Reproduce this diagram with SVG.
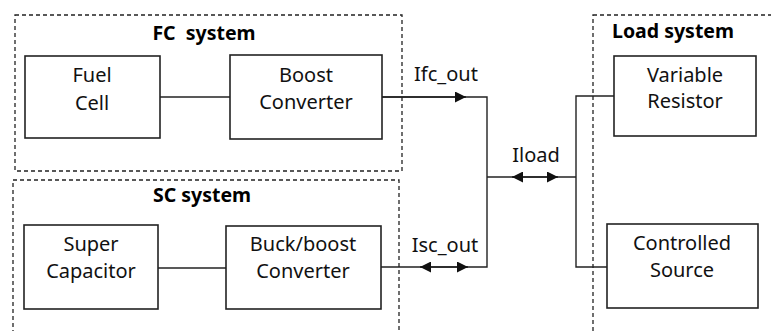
<svg xmlns="http://www.w3.org/2000/svg" width="771" height="331" viewBox="0 0 771 331">
  <defs>
    <style>
      .group { fill: none; stroke: #222; stroke-width: 1.3; stroke-dasharray: 4 3; }
      .box { fill: #fff; stroke: #222; stroke-width: 1.6; }
      .wire { fill: none; stroke: #222; stroke-width: 1.4; }
      .label { font-family: "Noto Sans", "Open Sans", sans-serif; font-size: 20px; fill: #111; text-anchor: middle; }
      .title { font-family: "Noto Sans", "Open Sans", sans-serif; font-size: 19.5px; font-weight: bold; fill: #000; text-anchor: middle; }
    </style>
    <marker id="tri" viewBox="0 0 10 10" refX="10" refY="5" markerWidth="11" markerHeight="11" markerUnits="userSpaceOnUse" orient="auto-start-reverse">
      <path d="M0,0 L10,5 L0,10 Z" fill="#111"/>
    </marker>
  </defs>

  <rect width="771" height="331" fill="#fff"/>

  <!-- subsystem frames -->
  <g id="fc-system">
    <rect class="group" x="15" y="15" width="387" height="156"/>
    <text class="title" x="204" y="40" xml:space="preserve">FC  system</text>
  </g>
  <g id="sc-system">
    <rect class="group" x="13" y="180" width="386" height="160"/>
    <text class="title" x="202" y="202">SC system</text>
  </g>
  <g id="load-system">
    <rect class="group" x="593" y="15" width="190" height="325"/>
    <text class="title" x="673" y="38">Load system</text>
  </g>

  <!-- connectors -->
  <g id="connectors">
    <line class="wire" x1="160" y1="97" x2="230" y2="97"/>
    <line class="wire" x1="158" y1="268" x2="226" y2="268"/>
    <polyline class="wire" points="382,97 487,97 487,267 381,267"/>
    <line class="wire" x1="382" y1="97" x2="466" y2="97" marker-end="url(#tri)"/>
    <line class="wire" x1="420" y1="267" x2="468" y2="267" marker-start="url(#tri)" marker-end="url(#tri)"/>
    <line class="wire" x1="487" y1="177" x2="576" y2="177"/>
    <line class="wire" x1="512" y1="177" x2="558" y2="177" marker-start="url(#tri)" marker-end="url(#tri)"/>
    <polyline class="wire" points="614,96 576,96 576,267 607,267"/>
    <text class="label" x="446" y="81">Ifc_out</text>
    <text class="label" x="445" y="252">Isc_out</text>
    <text class="label" x="536" y="162">Iload</text>
  </g>

  <!-- blocks -->
  <g id="fuel-cell">
    <rect class="box" x="25" y="56" width="135" height="82"/>
    <text class="label" x="92" y="82">Fuel</text>
    <text class="label" x="92" y="110">Cell</text>
  </g>
  <g id="boost-converter">
    <rect class="box" x="230" y="55" width="152" height="84"/>
    <text class="label" x="306" y="82">Boost</text>
    <text class="label" x="306" y="109">Converter</text>
  </g>
  <g id="super-capacitor">
    <rect class="box" x="24" y="225" width="134" height="84"/>
    <text class="label" x="91" y="251">Super</text>
    <text class="label" x="91" y="278">Capacitor</text>
  </g>
  <g id="buckboost-converter">
    <rect class="box" x="226" y="226" width="155" height="83"/>
    <text class="label" x="303" y="251">Buck/boost</text>
    <text class="label" x="303" y="278">Converter</text>
  </g>
  <g id="variable-resistor">
    <rect class="box" x="614" y="56" width="142" height="80"/>
    <text class="label" x="685" y="82">Variable</text>
    <text class="label" x="685" y="108">Resistor</text>
  </g>
  <g id="controlled-source">
    <rect class="box" x="607" y="224" width="151" height="84"/>
    <text class="label" x="682" y="250">Controlled</text>
    <text class="label" x="682" y="277">Source</text>
  </g>
</svg>
